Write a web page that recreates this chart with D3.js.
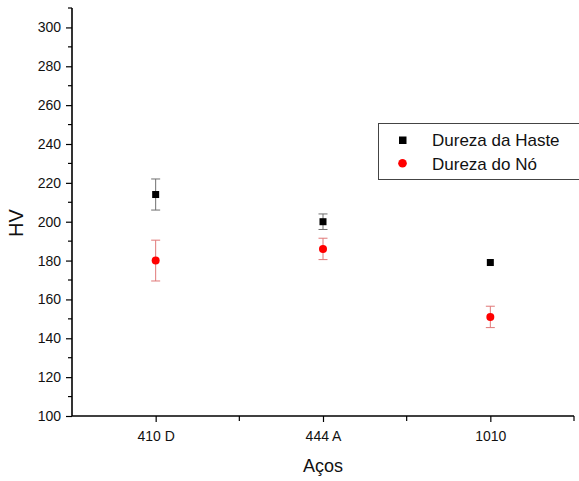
<!DOCTYPE html>
<html>
<head>
<meta charset="utf-8">
<script src="https://cdn.jsdelivr.net/npm/d3@7"></script>
<style>
  body { margin: 0; background: #fff; }
  svg, svg text { font-family: "Liberation Sans", Arial, sans-serif; }
  svg { display: block; }
</style>
</head>
<body>
<svg id="chart" width="579" height="481"></svg>
<script>
// ---- data ----
const categories = ["410 D", "444 A", "1010"];
const hasteValues = [214, 200, 179];
const hasteErrors = [8, 4, 0];
const noValues = [180, 186, 151];
const noErrors = [10.5, 5.5, 5.5];
const yTicks = [100, 120, 140, 160, 180, 200, 220, 240, 260, 280, 300];
const seriesNames = ["Dureza da Haste", "Dureza do Nó"];

const FONT = "Liberation Sans, Arial, sans-serif";
const svg = d3.select("#chart");
const pLeft = 72, pRight = 574, pTop = 8, pBottom = 416;

const x = d3.scaleLinear().domain([0.5, 3.5]).range([pLeft, pRight]);
const y = d3.scaleLinear().domain([100, 310]).range([pBottom, pTop]);

// y axis major
const yAxis = d3.axisLeft(y).tickValues(yTicks).tickSize(6).tickPadding(5).tickFormat(d3.format("d"));
const gy = svg.append("g").attr("transform", `translate(${pLeft},0)`).call(yAxis)
  .attr("font-family", FONT).attr("font-size", 14);
gy.select(".domain").attr("stroke-width", 1.6).attr("d", `M0,${pTop}V${pBottom}`);
gy.selectAll(".tick line").attr("stroke-width", 1.2);
gy.selectAll(".tick text").attr("fill", "#111");
// y minor ticks
const yMinor = d3.range(110, 311, 20);
svg.append("g").selectAll("line").data(yMinor).join("line")
  .attr("x1", pLeft - 4).attr("x2", pLeft).attr("y1", d => y(d)).attr("y2", d => y(d))
  .attr("stroke", "#000").attr("stroke-width", 1.2);

// x axis
const xAxis = d3.axisBottom(x).tickValues([1, 2, 3]).tickFormat(d => categories[d - 1]).tickSize(6).tickPadding(9);
const gx = svg.append("g").attr("transform", `translate(0,${pBottom})`).call(xAxis)
  .attr("font-family", FONT).attr("font-size", 14);
gx.select(".domain").attr("stroke-width", 1.6).attr("d", `M${pLeft},0H${pRight}`);
gx.selectAll(".tick line").attr("stroke-width", 1.2);
gx.selectAll(".tick text").attr("fill", "#111");
// x minor ticks
svg.append("g").selectAll("line").data([1.5, 2.5, 3.5]).join("line")
  .attr("x1", d => x(d)).attr("x2", d => x(d)).attr("y1", pBottom).attr("y2", pBottom + 5)
  .attr("stroke", "#000").attr("stroke-width", 1.2);

// axis titles
svg.append("text").attr("transform", "translate(23,223) rotate(-90)")
  .attr("text-anchor", "middle").attr("font-size", 20).attr("fill", "#111").text("HV");
svg.append("text").attr("x", x(2)).attr("y", 472)
  .attr("text-anchor", "middle").attr("font-size", 18).attr("fill", "#111").text("Aços");

// error bars
function errorBars(vals, errs, color) {
  const g = svg.append("g").attr("stroke", color).attr("stroke-width", 1);
  vals.forEach((v, i) => {
    if (!errs[i]) return;
    const cx = x(i + 1);
    g.append("line").attr("x1", cx).attr("x2", cx).attr("y1", y(v + errs[i])).attr("y2", y(v - errs[i]));
    g.append("line").attr("x1", cx - 4.5).attr("x2", cx + 4.5).attr("y1", y(v + errs[i])).attr("y2", y(v + errs[i]));
    g.append("line").attr("x1", cx - 4.5).attr("x2", cx + 4.5).attr("y1", y(v - errs[i])).attr("y2", y(v - errs[i]));
  });
}
errorBars(hasteValues, hasteErrors, "#707070");
errorBars(noValues, noErrors, "#e07878");

// markers
svg.append("g").selectAll("rect").data(hasteValues).join("rect")
  .attr("x", (d, i) => x(i + 1) - 3.5).attr("y", d => y(d) - 3.5)
  .attr("width", 7).attr("height", 7).attr("fill", "#000");
svg.append("g").selectAll("circle").data(noValues).join("circle")
  .attr("cx", (d, i) => x(i + 1)).attr("cy", d => y(d)).attr("r", 4).attr("fill", "#ff0000");

// legend
const lg = svg.append("g");
lg.append("rect").attr("x", 378.5).attr("y", 123.5).attr("width", 205).attr("height", 56)
  .attr("fill", "#fff").attr("stroke", "#444").attr("stroke-width", 1);
lg.append("rect").attr("x", 399).attr("y", 136.5).attr("width", 7.5).attr("height", 7.5).attr("fill", "#000");
lg.append("circle").attr("cx", 402.5).attr("cy", 163.3).attr("r", 4.3).attr("fill", "#ff0000");
lg.selectAll("text").data(seriesNames).join("text")
  .attr("x", 432).attr("y", (d, i) => 146 + i * 23.5)
  .attr("font-size", 17).attr("fill", "#111").text(d => d);
</script>
</body>
</html>
